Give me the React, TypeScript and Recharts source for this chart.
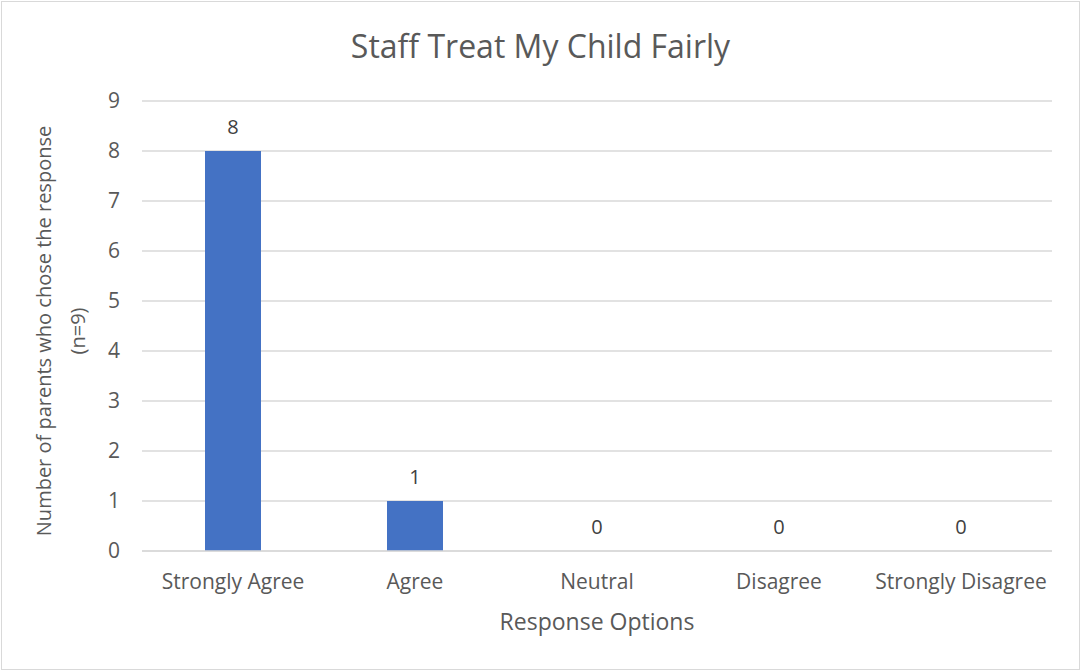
import React from 'react';
import {
  ComposedChart,
  Bar,
  Line,
  XAxis,
  YAxis,
  CartesianGrid,
  LabelList,
  Label,
} from 'recharts';

const categories = ['Strongly Agree', 'Agree', 'Neutral', 'Disagree', 'Strongly Disagree'];
const counts = [8, 1, 0, 0, 0];
const yTicks = [0, 1, 2, 3, 4, 5, 6, 7, 8, 9];

const data = categories.map((name, i) => ({ name, count: counts[i] }));

const FONT = '"Open Sans", "Segoe UI", sans-serif';
const TEXT = '#595959';

const YAxisTitle = (props: any) => {
  const { viewBox } = props;
  const cy = viewBox.y + viewBox.height / 2 + 5;
  const x = 51;
  return (
    <text
      transform={`rotate(-90, ${x}, ${cy})`}
      x={x}
      y={cy}
      textAnchor="middle"
      fill={TEXT}
      fontSize={20}
      fontFamily={FONT}
    >
      <tspan x={x} dy={0}>Number of parents who chose the response</tspan>
      <tspan x={x} dy={34}>(n=9)</tspan>
    </text>
  );
};

export default function App() {
  return (
    <div
      style={{
        position: 'absolute',
        left: 0,
        top: 0,
        width: 1081,
        height: 671,
        background: '#fff',
        fontFamily: FONT,
      }}
    >
      <div
        style={{
          position: 'absolute',
          left: 1,
          top: 1,
          width: 1077,
          height: 667,
          border: '1px solid #d9d9d9',
        }}
      />
      <div
        style={{
          position: 'absolute',
          top: 26,
          left: 0,
          width: 1081,
          textAlign: 'center',
          fontSize: 32,
          color: TEXT,
          lineHeight: '40px',
        }}
      >
        Staff Treat My Child Fairly
      </div>
      <div style={{ position: 'absolute', left: 0, top: 0 }}>
        <ComposedChart
          width={1081}
          height={671}
          data={data}
          margin={{ top: 101, right: 29, bottom: 0, left: 0 }}
          barCategoryGap={63}
        >
          <CartesianGrid vertical={false} stroke="#d9d9d9" strokeWidth={1.5} />
          <XAxis
            dataKey="name"
            axisLine={{ stroke: '#d9d9d9', strokeWidth: 1.5 }}
            tickLine={false}
            tickSize={0}
            tickMargin={23}
            tick={{ fill: TEXT, fontSize: 21, fontFamily: FONT }}
            height={120}
          >
            <Label
              value="Response Options"
              position="insideTop"
              offset={63}
              fill={TEXT}
              fontSize={23}
              fontFamily={FONT}
            />
          </XAxis>
          <YAxis
            domain={[0, 9]}
            ticks={yTicks}
            interval={0}
            axisLine={false}
            tickLine={false}
            tickSize={0}
            tickMargin={22}
            width={142}
            tick={{ fill: TEXT, fontSize: 21, fontFamily: FONT }}
          >
            <Label content={<YAxisTitle />} />
          </YAxis>
          <Bar dataKey="count" fill="#4472c4" isAnimationActive={false} />
          <Line
            dataKey="count"
            stroke="none"
            dot={false}
            activeDot={false}
            isAnimationActive={false}
          >
            <LabelList
              dataKey="count"
              position="top"
              offset={17}
              fill="#404040"
              fontSize={20}
              fontFamily={FONT}
            />
          </Line>
        </ComposedChart>
      </div>
    </div>
  );
}
